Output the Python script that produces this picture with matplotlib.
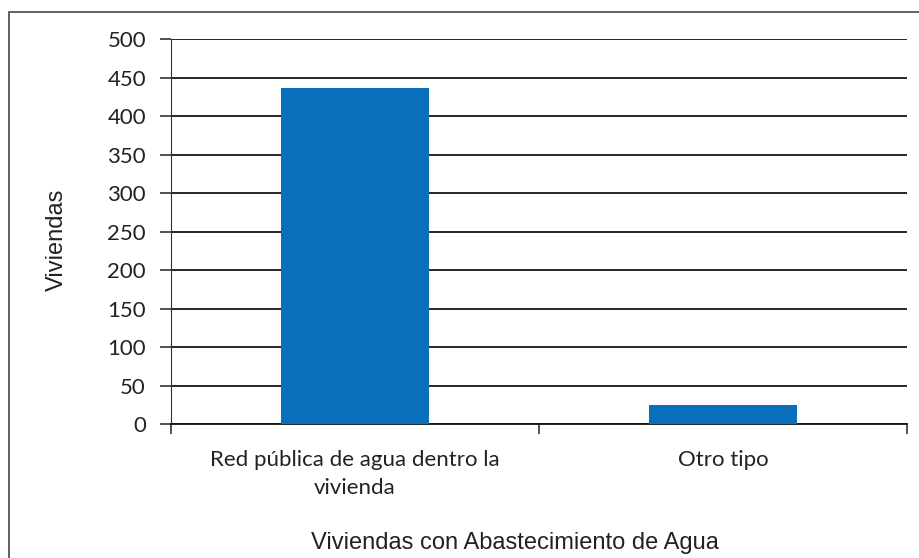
import matplotlib.pyplot as plt
from matplotlib.patches import Rectangle

# Viviendas por tipo de abastecimiento de agua
categorias = ["Red pública de agua dentro la\nvivienda", "Otro tipo"]
viviendas = [436, 25]
y_ticks = [0, 50, 100, 150, 200, 250, 300, 350, 400, 450, 500]

title_font = ["Liberation Sans", "DejaVu Sans"]
label_font = ["Lato", "DejaVu Sans"]

fig = plt.figure(figsize=(9.2, 5.58), dpi=100)
ax = fig.add_axes([0.1859, 0.2401, 0.8, 0.6900])

# marco exterior del grafico
fig.patches.append(Rectangle((9 / 920, -0.05), 1.2, 1 - 12 / 558 + 0.05,
                             transform=fig.transFigure, fill=False,
                             edgecolor="#555555", linewidth=1.3))

x = range(len(categorias))
ax.bar(x, viviendas, width=0.4, color="#0a6fba", zorder=3)

ax.set_xlim(-0.5, len(categorias) - 0.5)
ax.set_ylim(0, 500)
ax.set_yticks(y_ticks)
ax.yaxis.grid(True, color="#151515", linewidth=1.3, zorder=0)
ax.set_axisbelow(True)

for side in ["top", "right"]:
    ax.spines[side].set_visible(False)
ax.spines["left"].set_color("#333333")
ax.spines["bottom"].set_color("#151515")
ax.spines["bottom"].set_linewidth(1.3)

# marcas del eje x en los limites de cada categoria
ax.set_xticks([-0.5, 0.5, 1.5])
ax.set_xticklabels([])
ax.tick_params(axis="x", direction="out", length=7, width=1.2, color="#333333")
ax.tick_params(axis="y", direction="out", length=8, width=1.2, color="#333333",
               pad=10, labelsize=16)
for lbl in ax.get_yticklabels():
    lbl.set_fontfamily(label_font)
    lbl.set_color("#222222")

for i, cat in enumerate(categorias):
    ax.text(i, -0.068, cat, transform=ax.get_xaxis_transform(), ha="center",
            va="top", multialignment="center", fontsize=16,
            family=label_font, color="#222222", linespacing=1.5)

fig.text(57 / 920, 1 - 240 / 558, "Viviendas", rotation=90, ha="center",
         va="center", family=title_font, fontsize=17, color="#222222")
fig.text(515 / 920, 1 - 543 / 558,
         "Viviendas con Abastecimiento de Agua", ha="center", va="center",
         family=title_font, fontsize=17, color="#222222")

fig.savefig("out.png", dpi=100)
